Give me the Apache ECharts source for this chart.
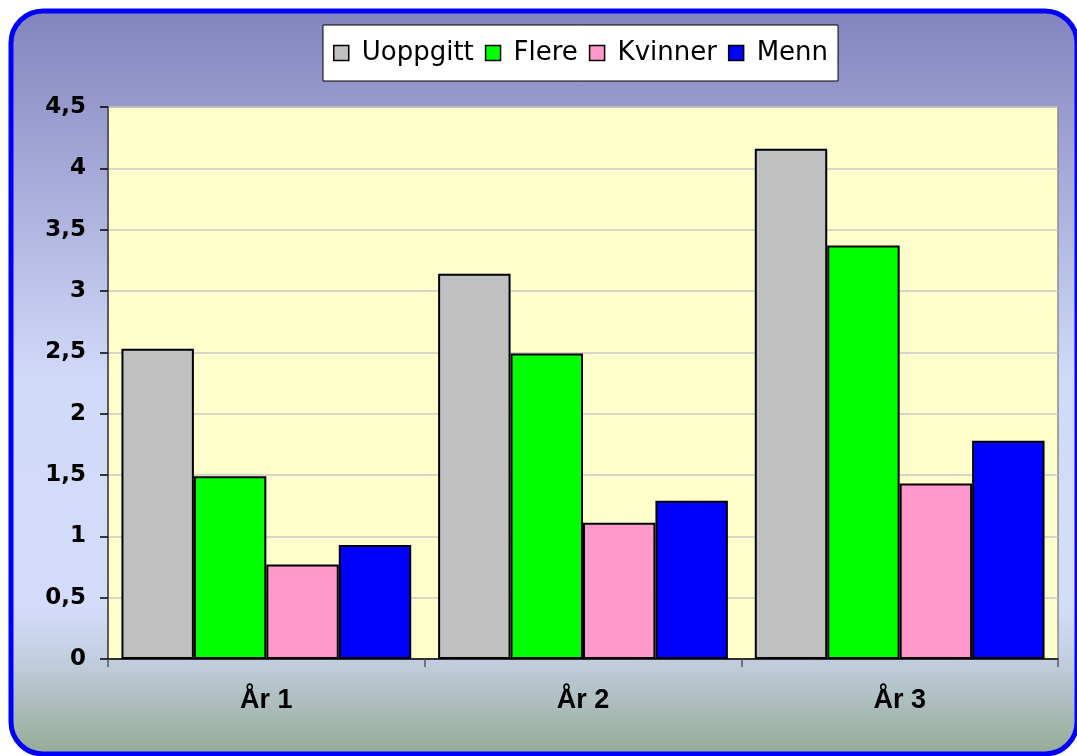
<!DOCTYPE html>
<html>
<head>
<meta charset="utf-8">
<script src="https://cdn.jsdelivr.net/npm/echarts@6/dist/echarts.min.js"></script>
<style>
html,body{margin:0;padding:0;background:#fff;}
#c{width:1077px;height:756px;}
</style>
</head>
<body>
<div id="c"></div>
<script>
const categories = ['År 1', 'År 2', 'År 3'];
const seriesNames = ['Uoppgitt', 'Flere', 'Kvinner', 'Menn'];
const uoppgitt = [2.53, 3.14, 4.16];
const flere = [1.49, 2.49, 3.37];
const kvinner = [0.77, 1.11, 1.43];
const menn = [0.93, 1.29, 1.78];
const colors = ['#c0c0c0', '#00ff00', '#ff99cc', '#0000ff'];
const yTicks = { min: 0, max: 4.5, interval: 0.5 };

const chart = echarts.init(document.getElementById('c'), null, { renderer: 'canvas' });
const values = [uoppgitt, flere, kvinner, menn];
const font = 'Liberation Sans, Arial, sans-serif';
const wide = 'DejaVu Sans, sans-serif';

chart.setOption({
  animation: false,
  backgroundColor: '#ffffff',
  graphic: [{
    type: 'rect',
    z: -10,
    silent: true,
    shape: { x: 11, y: 11, width: 1066, height: 743, r: 32 },
    style: {
      fill: new echarts.graphic.LinearGradient(0, 0, 0, 1, [
        { offset: 0, color: '#8383be' },
        { offset: 0.5, color: '#d2daf9' },
        { offset: 0.8, color: '#d4dcfa' },
        { offset: 0.87, color: '#c2cee0' },
        { offset: 1, color: '#94aa94' }
      ]),
      stroke: '#0000ff',
      lineWidth: 5
    }
  }],
  legend: {
    data: seriesNames,
    top: 25,
    left: 323,
    backgroundColor: '#ffffff',
    borderColor: '#000000',
    borderWidth: 1,
    borderRadius: 0,
    padding: [15, 10, 15, 10],
    itemWidth: 15,
    itemHeight: 15,
    itemGap: 11,
    icon: 'rect',
    itemStyle: { borderColor: '#000', borderWidth: 1.5 },
    textStyle: { fontSize: 26, color: '#000', fontFamily: wide, padding: [0, 0, 0, 8] }
  },
  grid: {
    left: 108, right: 19, top: 107, bottom: 97,
    show: true,
    backgroundColor: '#ffffcc',
    borderColor: '#8c8c8c',
    borderWidth: 1.5
  },
  xAxis: {
    type: 'category',
    data: categories,
    axisLine: { lineStyle: { color: '#000', width: 1.5 } },
    axisTick: { show: true, alignWithLabel: false, length: 8, lineStyle: { color: '#555', width: 1.5 } },
    axisLabel: { fontSize: 27, fontWeight: 'bold', color: '#000', fontFamily: font, margin: 28 }
  },
  yAxis: {
    type: 'value',
    min: yTicks.min, max: yTicks.max, interval: yTicks.interval,
    axisLine: { show: true, lineStyle: { color: '#444', width: 1.5 } },
    axisTick: { show: true, length: 8, lineStyle: { color: '#000', width: 1.5 } },
    splitLine: { lineStyle: { color: '#c8c8c8', width: 1.5 } },
    axisLabel: {
      fontSize: 23, fontWeight: 'bold', color: '#000', fontFamily: wide, margin: 22,
      formatter: v => String(v).replace('.', ',')
    }
  },
  series: seriesNames.map((n, i) => ({
    name: n,
    type: 'bar',
    data: values[i],
    barGap: '0%',
    barCategoryGap: '8.5%',
    itemStyle: { color: colors[i], borderColor: '#000', borderWidth: 2 }
  }))
});
</script>
</body>
</html>
